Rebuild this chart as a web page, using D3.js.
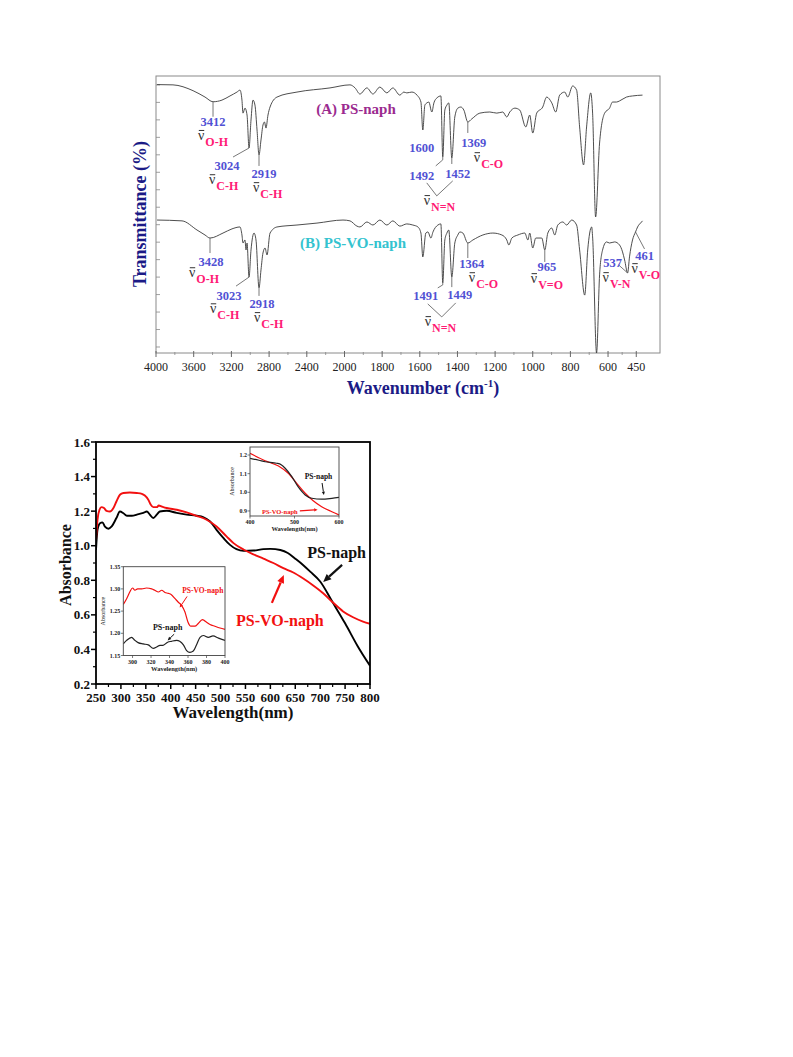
<!DOCTYPE html>
<html>
<head>
<meta charset="utf-8">
<script src="https://cdn.jsdelivr.net/npm/d3@7/dist/d3.min.js"></script>
<style>
html,body{margin:0;padding:0;background:#fff;}
svg{display:block;}
</style>
</head>
<body>
<svg id="fig" width="793" height="1057"></svg>
<script>
// ================= DATA =================
// --- FTIR (top panel) ---
const irTickLabels = [4000,3600,3200,2800,2400,2000,1800,1600,1400,1200,1000,800,600,450];
// [wavenumber cm-1, transmittance (arb. %)]
const irPsNaph = [
[3989,96.9],[3820,96.8],[3607,94.7],[3480,92.4],[3395,90.7],[3300,91.3],[3215,92.8],[3141,94.2],[3109,94.9],[3088,91.3],[3077,86.6],[3056,88.4],[3034,85.9],[3013,74.0],[2992,84.1],[2971,91.3],[2950,89.5],[2928,80.5],[2907,71.5],[2886,76.9],[2865,82.3],[2849,83.4],[2833,81.2],[2812,85.9],[2790,88.8],[2716,92.4],[2504,94.2],[2154,95.7],[1971,96.8],[1944,95.7],[1918,93.5],[1881,95.7],[1849,93.5],[1812,96.0],[1775,93.9],[1743,95.7],[1706,93.1],[1685,94.2],[1669,93.9],[1642,94.2],[1615,93.1],[1594,90.6],[1584,80.5],[1573,89.5],[1562,90.3],[1552,90.6],[1536,87.0],[1525,90.3],[1509,92.1],[1488,92.8],[1478,70.8],[1467,87.7],[1456,89.5],[1446,90.3],[1430,70.4],[1414,85.2],[1398,88.4],[1382,88.8],[1366,87.7],[1345,83.4],[1324,84.5],[1281,86.6],[1228,87.0],[1191,86.6],[1159,87.0],[1138,85.2],[1122,87.0],[1095,88.4],[1069,87.7],[1037,81.6],[1016,85.9],[1000,79.4],[979,86.6],[947,88.8],[926,92.4],[899,90.3],[878,87.0],[857,93.1],[830,94.2],[814,92.4],[788,96.4],[767,94.9],[751,81.6],[730,67.9],[714,81.6],[692,93.9],[682,86.6],[666,49.1],[645,75.8],[618,86.6],[592,88.4],[576,90.6],[555,90.6],[539,91.0],[502,92.4],[470,92.8],[417,93.1]
];
const irPsVoNaph = [
[3989,48.0],[3724,47.7],[3565,44.4],[3480,42.6],[3427,41.5],[3289,43.3],[3194,44.8],[3109,45.5],[3088,42.6],[3077,39.7],[3056,40.8],[3045,37.2],[3034,39.7],[3013,27.4],[2992,37.2],[2960,43.3],[2939,40.8],[2907,23.5],[2886,30.0],[2865,36.1],[2843,37.9],[2822,35.4],[2790,43.3],[2716,45.5],[2504,46.2],[2292,46.9],[2016,48.0],[1971,47.7],[1934,45.8],[1918,45.5],[1881,47.3],[1849,46.2],[1812,48.0],[1775,46.2],[1743,47.7],[1706,45.8],[1669,46.6],[1637,46.2],[1610,45.5],[1594,43.3],[1584,34.7],[1568,43.3],[1557,43.7],[1541,41.5],[1530,43.7],[1504,46.2],[1488,46.6],[1478,25.3],[1467,40.8],[1456,43.3],[1446,44.4],[1430,27.4],[1414,39.7],[1398,42.6],[1387,43.7],[1371,43.3],[1345,39.7],[1318,40.8],[1265,42.6],[1212,43.3],[1164,42.6],[1138,40.8],[1127,39.0],[1111,41.5],[1079,42.6],[1042,43.3],[1026,40.8],[1016,43.3],[1000,37.9],[984,41.5],[952,41.5],[936,37.2],[920,43.3],[899,45.1],[883,42.6],[867,46.2],[840,47.3],[820,46.2],[793,48.0],[767,46.2],[751,37.2],[724,20.9],[708,37.2],[687,45.5],[682,41.9],[661,0.0],[645,28.2],[629,37.2],[608,40.1],[592,39.7],[565,40.1],[539,39.0],[523,36.5],[512,33.6],[496,28.9],[486,34.7],[470,40.8],[454,43.7],[443,45.5],[422,47.3],[417,47.7]
];
// peak annotations: wn = data point of the dip, text = printed value, sub = bond
const irPeaksA = [
  {wn:3395, text:"3412", sub:"O-H"},
  {wn:3013, text:"3024", sub:"C-H"},
  {wn:2907, text:"2919", sub:"C-H"},
  {wn:1584, text:"1600", sub:null},
  {wn:1478, text:"1492", sub:"N=N"},
  {wn:1430, text:"1452", sub:null},
  {wn:1345, text:"1369", sub:"C-O"}
];
const irPeaksB = [
  {wn:3427, text:"3428", sub:"O-H"},
  {wn:3013, text:"3023", sub:"C-H"},
  {wn:2907, text:"2918", sub:"C-H"},
  {wn:1478, text:"1491", sub:"N=N"},
  {wn:1430, text:"1449", sub:null},
  {wn:1345, text:"1364", sub:"C-O"},
  {wn:936,  text:"965",  sub:"V=O"},
  {wn:496,  text:"537",  sub:"V-N"},
  {wn:454,  text:"461",  sub:"V-O"}
];

// --- UV-Vis (bottom panel) ---
const uvTicksX = [250,300,350,400,450,500,550,600,650,700,750,800];
const uvTicksY = [0.2,0.4,0.6,0.8,1.0,1.2,1.4,1.6];
const uvPsNaph = [
[250,0.976],[253,1.092],[258,1.13],[263,1.135],[268,1.11],[275,1.098],[281,1.11],[291,1.16],[298,1.198],[305,1.188],[312,1.173],[322,1.173],[332,1.18],[345,1.19],[352,1.198],[358,1.18],[365,1.16],[372,1.18],[378,1.198],[392,1.202],[412,1.19],[432,1.18],[452,1.173],[465,1.166],[479,1.14],[492,1.092],[506,1.044],[519,1.005],[532,0.98],[546,0.97],[566,0.972],[586,0.98],[600,0.982],[620,0.975],[635,0.958],[650,0.925],[665,0.89],[680,0.85],[700,0.793],[725,0.673],[750,0.551],[775,0.42],[800,0.305]
];
const uvPsVoNaph = [
[250,1.034],[253,1.15],[257,1.208],[261,1.223],[266,1.218],[271,1.202],[278,1.198],[285,1.218],[291,1.256],[298,1.295],[305,1.305],[318,1.308],[332,1.305],[342,1.3],[348,1.29],[355,1.266],[360,1.237],[365,1.223],[372,1.223],[376,1.233],[382,1.227],[392,1.218],[412,1.208],[432,1.193],[452,1.173],[472,1.15],[492,1.111],[512,1.054],[526,1.015],[546,0.978],[566,0.95],[586,0.925],[606,0.9],[626,0.87],[646,0.845],[666,0.81],[686,0.77],[706,0.725],[725,0.673],[746,0.62],[766,0.586],[786,0.561],[800,0.548]
];
// inset 1 (400-600 nm)
const in1TicksX = [400,500,600];
const in1TicksY = [0.9,1.0,1.1,1.2];
const in1PsNaph = [[400,1.182],[420,1.172],[434,1.164],[460,1.156],[470,1.148],[479,1.129],[494,1.084],[508,1.03],[524,0.986],[539,0.968],[561,0.963],[584,0.968],[600,0.973]];
const in1PsVoNaph = [[400,1.209],[434,1.169],[464,1.141],[486,1.102],[505,1.048],[524,0.995],[542,0.955],[561,0.923],[584,0.896],[600,0.879]];
// inset 2 (290-400 nm)
const in2TicksX = [300,320,340,360,380,400];
const in2TicksY = [1.15,1.20,1.25,1.30,1.35];
const in2PsVoNaph = [[290,1.265],[293.6,1.278],[297,1.293],[300,1.302],[302.6,1.297],[305.5,1.30],[310,1.30],[315,1.302],[320.7,1.30],[324,1.297],[328,1.293],[331.5,1.297],[335,1.292],[338.7,1.29],[342,1.287],[346,1.278],[349.5,1.27],[353,1.263],[356.7,1.248],[360,1.225],[363,1.216],[367.5,1.216],[371,1.222],[375.5,1.231],[378,1.228],[383.8,1.22],[389,1.216],[394.6,1.212],[400,1.209]];
const in2PsNaph = [[290,1.176],[293.6,1.184],[299,1.191],[302.6,1.184],[306,1.179],[311.6,1.176],[317,1.174],[322.5,1.166],[326,1.169],[329.7,1.173],[333,1.173],[338,1.18],[342,1.182],[347.7,1.184],[351,1.182],[355,1.174],[358.5,1.161],[362,1.157],[365.7,1.16],[369,1.173],[373,1.191],[376.6,1.195],[382,1.191],[387,1.194],[393,1.189],[400,1.184]];

// ================= DRAW =================
const serif = "'Liberation Serif','Times New Roman',serif";
const blue = "#5151d4", pink = "#ff1a75";
const svg = d3.select("#fig");
svg.append("rect").attr("width",793).attr("height",1057).attr("fill","#fff");

// ---------- FTIR panel ----------
const irX = d3.scaleLinear().domain([4000,2000,324]).range([156,344.5,660]);
const irY = d3.scaleLinear().domain([0,100]).range([353,76]);
const ir = svg.append("g");
ir.append("rect").attr("x",156).attr("y",76).attr("width",504).attr("height",277)
  .attr("fill","none").attr("stroke","#8a8a8a").attr("stroke-width",1);
const irMinor = irTickLabels.slice(1).map((v,i)=> (v+irTickLabels[i])/2);
ir.selectAll(".irt").data(irTickLabels).enter().append("line")
  .attr("x1",d=>irX(d)).attr("x2",d=>irX(d)).attr("y1",351).attr("y2",357)
  .attr("stroke","#666").attr("stroke-width",1);
ir.selectAll(".irm").data(irMinor).enter().append("line")
  .attr("x1",d=>irX(d)).attr("x2",d=>irX(d)).attr("y1",352).attr("y2",355)
  .attr("stroke","#888").attr("stroke-width",0.8);
ir.selectAll(".irl").data(irTickLabels).enter().append("text")
  .attr("x",d=>irX(d)).attr("y",371).attr("text-anchor","middle")
  .attr("font-family",serif).attr("font-size",12).attr("fill","#222").text(d=>d);
const irYTicks = d3.range(16).map(k=>2.17+6.307*k);
ir.selectAll(".iry").data(irYTicks).enter().append("line")
  .attr("x1",156).attr("x2",160).attr("y1",d=>irY(d)).attr("y2",d=>irY(d))
  .attr("stroke","#888").attr("stroke-width",0.8);
ir.append("text").attr("transform","translate(146,214) rotate(-90)").attr("text-anchor","middle")
  .attr("font-family",serif).attr("font-size",18).attr("font-weight","bold").attr("fill","#1b1b86")
  .text("Transmittance (%)");
const wt = ir.append("text").attr("x",423).attr("y",394).attr("text-anchor","middle")
  .attr("font-family",serif).attr("font-size",18).attr("font-weight","bold").attr("fill","#1b1b86");
wt.append("tspan").text("Wavenumber (cm");
wt.append("tspan").attr("dy",-7).attr("font-size",11).text("-1");
wt.append("tspan").attr("dy",7).text(")");

const irLine = d3.line().x(d=>irX(d[0])).y(d=>irY(d[1])).curve(d3.curveMonotoneX);
ir.append("path").attr("d",irLine(irPsNaph)).attr("fill","none").attr("stroke","#3a3a3a").attr("stroke-width",0.9);
ir.append("path").attr("d",irLine(irPsVoNaph)).attr("fill","none").attr("stroke","#3a3a3a").attr("stroke-width",0.9);

ir.append("text").attr("x",356).attr("y",114).attr("text-anchor","middle")
  .attr("font-family",serif).attr("font-size",15).attr("font-weight","bold").attr("fill","#9b2b8f").text("(A) PS-naph");
ir.append("text").attr("x",353).attr("y",248).attr("text-anchor","middle")
  .attr("font-family",serif).attr("font-size",15).attr("font-weight","bold").attr("fill","#34c3cf").text("(B) PS-VO-naph");

// annotation layout (pixel offsets from the dip)
const layA = {
  "3412":{line:[[0,0],[0,15]], num:[0,24], nu:[-15,38]},
  "3024":{line:[[0,0],[-16,9]], num:[-22,22], nu:[-40,36]},
  "2919":{line:[[0,0],[0,11]], num:[5,23], nu:[-6,37]},
  "1600":{line:null, num:[-1,22], nu:null},
  "1492":{line:[[0,0],[0,3],[-7,9]], num:[-21,23], nu:[-19,48], vee:[[-16,26],[-6,39],[10,24]]},
  "1452":{line:[[0,0],[0,6]], num:[6,20], nu:null},
  "1369":{line:[[0,0],[0,11]], num:[6,25], nu:[6,40]}
};
const layB = {
  "3428":{line:[[0,0],[0,15]], num:[1,28], nu:[-21,39]},
  "3023":{line:[[0,0],[-13,9]], num:[-20,23], nu:[-39,36]},
  "2918":{line:[[0,0],[0,8]], num:[3,20], nu:[-5,34]},
  "1491":{line:[[0,0],[0,2],[-5,5]], num:[-17,17], nu:[-18,43], vee:[[-15,21],[-1,34],[13,20]]},
  "1449":{line:[[0,0],[0,10]], num:[8,22], nu:null},
  "1364":{line:[[0,0],[0,15]], num:[4,25], nu:[1,39]},
  "965":{line:[[0,0],[0,12]], num:[2,21], nu:[-14,33]},
  "537":{line:[[0,0],[-9,-8]], num:[-15,-6], nu:[-25,9]},
  "461":{line:[[0,0],[9,17]], num:[9,28], nu:[-4,41]}
};
function annotate(peaks, series, lay){
  peaks.forEach(p=>{
    const pt = series.find(d=>d[0]===p.wn);
    const ax = irX(pt[0]), ay = irY(pt[1]);
    const L = lay[p.text];
    const pl = d3.line().x(d=>ax+d[0]).y(d=>ay+d[1]);
    if(L.line) ir.append("path").attr("d",pl(L.line)).attr("fill","none").attr("stroke","#555").attr("stroke-width",0.8);
    if(L.vee) ir.append("path").attr("d",pl(L.vee)).attr("fill","none").attr("stroke","#555").attr("stroke-width",0.8);
    ir.append("text").attr("x",ax+L.num[0]).attr("y",ay+L.num[1]).attr("text-anchor","middle")
      .attr("font-family",serif).attr("font-size",12.5).attr("font-weight","bold").attr("fill",blue).text(p.text);
    if(L.nu && p.sub){
      const nx = ax+L.nu[0], ny = ay+L.nu[1];
      const t = ir.append("text").attr("x",nx).attr("y",ny)
        .attr("font-family",serif).attr("font-size",14).attr("fill","#333");
      t.append("tspan").text("\u03BD");
      t.append("tspan").attr("dy",6).attr("dx",1).attr("font-size",12).attr("font-weight","bold").attr("fill",pink).text(p.sub);
      ir.append("line").attr("x1",nx+0.8).attr("x2",nx+6.2).attr("y1",ny-9.3).attr("y2",ny-9.3)
        .attr("stroke","#333").attr("stroke-width",1);
    }
  });
}
annotate(irPeaksA, irPsNaph, layA);
annotate(irPeaksB, irPsVoNaph, layB);

// ---------- UV-Vis panel ----------
const uvX = d3.scaleLinear().domain([250,800]).range([96,370]);
const uvY = d3.scaleLinear().domain([0.2,1.6]).range([684,442]);
const uv = svg.append("g");
const uvLine = d3.line().x(d=>uvX(d[0])).y(d=>uvY(d[1])).curve(d3.curveMonotoneX);
uv.append("defs").append("clipPath").attr("id","uvclip").append("rect")
  .attr("x",96).attr("y",442).attr("width",274).attr("height",242);
uv.append("path").attr("d",uvLine(uvPsNaph)).attr("clip-path","url(#uvclip)")
  .attr("fill","none").attr("stroke","#000").attr("stroke-width",1.9);
uv.append("path").attr("d",uvLine(uvPsVoNaph)).attr("clip-path","url(#uvclip)")
  .attr("fill","none").attr("stroke","#f21010").attr("stroke-width",1.9);
uv.append("rect").attr("x",96).attr("y",442).attr("width",274).attr("height",242)
  .attr("fill","none").attr("stroke","#000").attr("stroke-width",1.8);
const uvMinorX = uvTicksX.slice(1).map((v,i)=>(v+uvTicksX[i])/2);
const uvMinorY = uvTicksY.slice(1).map((v,i)=>(v+uvTicksY[i])/2);
uv.selectAll(".ux").data(uvTicksX).enter().append("line")
  .attr("x1",d=>uvX(d)).attr("x2",d=>uvX(d)).attr("y1",684).attr("y2",689).attr("stroke","#000").attr("stroke-width",1.5);
uv.selectAll(".uxm").data(uvMinorX).enter().append("line")
  .attr("x1",d=>uvX(d)).attr("x2",d=>uvX(d)).attr("y1",684).attr("y2",687).attr("stroke","#000").attr("stroke-width",1.2);
uv.selectAll(".uy").data(uvTicksY).enter().append("line")
  .attr("x1",91).attr("x2",96).attr("y1",d=>uvY(d)).attr("y2",d=>uvY(d)).attr("stroke","#000").attr("stroke-width",1.5);
uv.selectAll(".uym").data(uvMinorY).enter().append("line")
  .attr("x1",93).attr("x2",96).attr("y1",d=>uvY(d)).attr("y2",d=>uvY(d)).attr("stroke","#000").attr("stroke-width",1.2);
uv.selectAll(".uxl").data(uvTicksX).enter().append("text")
  .attr("x",d=>uvX(d)).attr("y",702).attr("text-anchor","middle")
  .attr("font-family",serif).attr("font-size",13).attr("font-weight","bold").attr("fill","#111").text(d=>d);
uv.selectAll(".uyl").data(uvTicksY).enter().append("text")
  .attr("x",90).attr("y",d=>uvY(d)+4.5).attr("text-anchor","end")
  .attr("font-family",serif).attr("font-size",13).attr("font-weight","bold").attr("fill","#111").text(d=>d.toFixed(1));
uv.append("text").attr("transform","translate(71,565) rotate(-90)").attr("text-anchor","middle")
  .attr("font-family",serif).attr("font-size",16).attr("font-weight","bold").attr("fill","#111").text("Absorbance");
uv.append("text").attr("x",233).attr("y",718).attr("text-anchor","middle")
  .attr("font-family",serif).attr("font-size",17).attr("font-weight","bold").attr("fill","#111").text("Wavelength(nm)");

function arrow(g,x1,y1,x2,y2,color,w,head){
  const a = Math.atan2(y2-y1,x2-x1), c=Math.cos(a), s=Math.sin(a);
  const bx = x2-head*c, by = y2-head*s;
  g.append("line").attr("x1",x1).attr("y1",y1).attr("x2",bx).attr("y2",by).attr("stroke",color).attr("stroke-width",w);
  g.append("polygon").attr("points",[[x2,y2],[bx+head*0.45*s,by-head*0.45*c],[bx-head*0.45*s,by+head*0.45*c]].map(p=>p.join(",")).join(" "))
    .attr("fill",color);
}

// ---------- inset builder ----------
function inset(cfg){
  const g = svg.append("g");
  const x = d3.scaleLinear().domain(cfg.dx).range([cfg.x0,cfg.x1]);
  const y = d3.scaleLinear().domain(cfg.dy).range([cfg.y1,cfg.y0]);
  const id = "clip"+cfg.id;
  g.append("defs").append("clipPath").attr("id",id).append("rect")
    .attr("x",cfg.x0).attr("y",cfg.y0).attr("width",cfg.x1-cfg.x0).attr("height",cfg.y1-cfg.y0);
  g.append("rect").attr("x",cfg.x0).attr("y",cfg.y0).attr("width",cfg.x1-cfg.x0).attr("height",cfg.y1-cfg.y0)
    .attr("fill","#fff").attr("stroke","none");
  const ln = d3.line().x(d=>x(d[0])).y(d=>y(d[1])).curve(d3.curveMonotoneX);
  cfg.series.forEach(s=>{
    g.append("path").attr("d",ln(s.data)).attr("clip-path",`url(#${id})`)
      .attr("fill","none").attr("stroke",s.color).attr("stroke-width",1.2);
  });
  g.append("rect").attr("x",cfg.x0).attr("y",cfg.y0).attr("width",cfg.x1-cfg.x0).attr("height",cfg.y1-cfg.y0)
    .attr("fill","none").attr("stroke","#444").attr("stroke-width",0.9);
  g.selectAll(".tx").data(cfg.tx).enter().append("line")
    .attr("x1",d=>x(d)).attr("x2",d=>x(d)).attr("y1",cfg.y1).attr("y2",cfg.y1+2.5).attr("stroke","#444").attr("stroke-width",0.7);
  g.selectAll(".ty").data(cfg.ty).enter().append("line")
    .attr("x1",cfg.x0-2.5).attr("x2",cfg.x0).attr("y1",d=>y(d)).attr("y2",d=>y(d)).attr("stroke","#444").attr("stroke-width",0.7);
  g.selectAll(".txl").data(cfg.tx).enter().append("text")
    .attr("x",d=>x(d)).attr("y",cfg.y1+8).attr("text-anchor","middle")
    .attr("font-family",serif).attr("font-size",6).attr("font-weight","bold").attr("fill","#222").text(d=>d);
  g.selectAll(".tyl").data(cfg.ty).enter().append("text")
    .attr("x",cfg.x0-3).attr("y",d=>y(d)+2).attr("text-anchor","end")
    .attr("font-family",serif).attr("font-size",6).attr("font-weight","bold").attr("fill","#222").text(d=>d.toFixed(cfg.dec));
  g.append("text").attr("x",(cfg.x0+cfg.x1)/2).attr("y",cfg.y1+15).attr("text-anchor","middle")
    .attr("font-family",serif).attr("font-size",6.5).attr("font-weight","bold").attr("fill","#222").text("Wavelength(nm)");
  g.append("text").attr("transform",`translate(${cfg.ax},${(cfg.y0+cfg.y1)/2}) rotate(-90)`).attr("text-anchor","middle")
    .attr("font-family",serif).attr("font-size",6).attr("fill","#222").text("Absorbance");
  return {g,x,y};
}
const i1 = inset({id:"i1", x0:250,x1:339,y0:447,y1:516, dx:[400,600], dy:[0.873,1.243], tx:in1TicksX, ty:in1TicksY, dec:1, ax:234,
  series:[{data:in1PsVoNaph,color:"#f21010"},{data:in1PsNaph,color:"#222"}]});
i1.g.append("text").attr("x",i1.x(554)).attr("y",i1.y(1.07)).attr("text-anchor","middle")
  .attr("font-family",serif).attr("font-size",7.5).attr("font-weight","bold").attr("fill","#111").text("PS-naph");
arrow(i1.g, i1.x(562),i1.y(1.05), i1.x(566),i1.y(0.985), "#111", 1, 3.5);
i1.g.append("text").attr("x",i1.x(467)).attr("y",i1.y(0.884)).attr("text-anchor","middle")
  .attr("font-family",serif).attr("font-size",6.5).attr("font-weight","bold").attr("fill","#f21010").text("PS-VO-naph");
arrow(i1.g, i1.x(512),i1.y(0.9), i1.x(552),i1.y(0.907), "#f21010", 1.2, 3.5);

const i2 = inset({id:"i2", x0:123.3,x1:225,y0:566.7,y1:655.5, dx:[290,400], dy:[1.15,1.35], tx:in2TicksX, ty:in2TicksY, dec:2, ax:105,
  series:[{data:in2PsVoNaph,color:"#f21010"},{data:in2PsNaph,color:"#222"}]});
i2.g.append("text").attr("x",i2.x(376)).attr("y",i2.y(1.29)).attr("text-anchor","middle")
  .attr("font-family",serif).attr("font-size",7.5).attr("font-weight","bold").attr("fill","#f21010").text("PS-VO-naph");
arrow(i2.g, i2.x(359),i2.y(1.283), i2.x(351),i2.y(1.258), "#f21010", 1, 3.5);
i2.g.append("text").attr("x",i2.x(338)).attr("y",i2.y(1.208)).attr("text-anchor","middle")
  .attr("font-family",serif).attr("font-size",8).attr("font-weight","bold").attr("fill","#111").text("PS-naph");
arrow(i2.g, i2.x(345),i2.y(1.198), i2.x(338),i2.y(1.184), "#111", 1, 3.5);

// main labels (drawn last, positioned in data coordinates)
uv.raise();
uv.append("text").attr("x",uvX(733)).attr("y",uvY(0.929)).attr("text-anchor","middle")
  .attr("font-family",serif).attr("font-size",16).attr("font-weight","bold").attr("fill","#111").text("PS-naph");
arrow(uv, uvX(744),uvY(0.889), uvX(706),uvY(0.79), "#111", 2.2, 8);
uv.append("text").attr("x",uvX(619)).attr("y",uvY(0.536)).attr("text-anchor","middle")
  .attr("font-family",serif).attr("font-size",16).attr("font-weight","bold").attr("fill","#f21010").text("PS-VO-naph");
arrow(uv, uvX(603),uvY(0.669), uvX(627),uvY(0.83), "#f21010", 2.2, 8);
</script>
</body>
</html>
